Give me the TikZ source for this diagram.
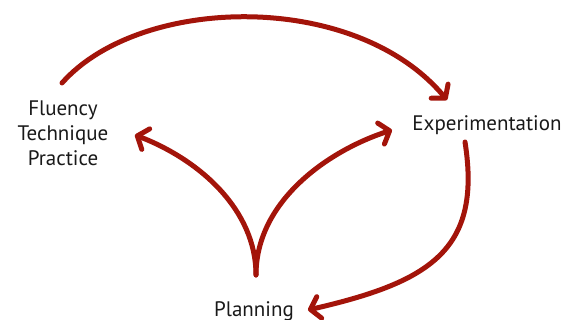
\documentclass[tikz,border=0pt]{standalone}
\usepackage{fontspec}
\setmainfont{PT Sans}
\usetikzlibrary{arrows.meta}
\definecolor{arrred}{RGB}{163,20,10}
\begin{document}
\begin{tikzpicture}[x=1pt,y=-1pt,
  lbl/.style={inner sep=0pt,font=\fontsize{21}{25}\selectfont,text=black!90},
  flow/.style={draw=arrred,line width=5pt,line cap=round,
    -{Straight Barb[length=9pt,width=22pt,line cap=round,line join=round]}}]
\useasboundingbox (0,0) rectangle (567,320);
\node[lbl,align=center] (flu) at (63,133) {Fluency\\Technique\\Practice};
\node[lbl,anchor=base] (exp) at (487,131) {Experimentation};
\node[lbl,anchor=base] (pla) at (254,316) {Planning};
\coordinate (fluTop) at (62,83);
\coordinate (expIn) at (447,100);
\coordinate (expOut) at (465,142);
\coordinate (plaIn) at (308,310);
\coordinate (plaOut) at (256,275);
\coordinate (fluIn) at (135,135);
\coordinate (expIn2) at (392,130);
\draw[flow] (fluTop) .. controls (140,-5) and (355,-10) .. (expIn);
\draw[flow] (expOut) .. controls (482,250) and (430,282) .. (plaIn);
\draw[flow] (plaOut) .. controls (256,210) and (200,160) .. (fluIn);
\draw[flow] (plaOut) .. controls (256,200) and (330,150) .. (expIn2);
\end{tikzpicture}
\end{document}
